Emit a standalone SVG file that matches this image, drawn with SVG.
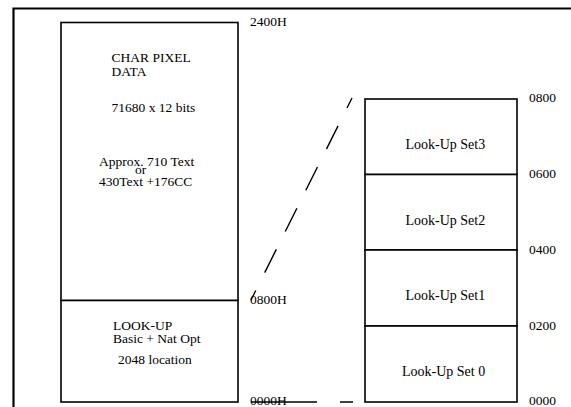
<svg xmlns="http://www.w3.org/2000/svg" width="571" height="407" viewBox="0 0 571 407">
<style>
.t{font-family:"Liberation Serif","Times New Roman",serif;font-size:13.5px;fill:#000}
.r{font-size:14px}
.box{fill:#fff;stroke:#000;stroke-width:1.6}
.ln{fill:none;stroke:#000;stroke-width:1.4}
</style>
<rect x="0" y="0" width="571" height="407" fill="#fff"/>
<path d="M13.5 407 V8.5 H571" fill="none" stroke="#000" stroke-width="2.2"/>
<g id="char-pixel-data">
<rect class="box" x="61" y="22.5" width="177" height="278"/>
<text class="t" x="111.5" y="61.7">CHAR PIXEL</text>
<text class="t" x="111.5" y="75.7">DATA</text>
<text class="t" x="111.5" y="111.7">71680 x 12 bits</text>
<text class="t" x="99" y="165.7">Approx. 710 Text</text>
<text class="t" x="140.5" y="173.5" text-anchor="middle">or</text>
<text class="t" x="99" y="185.7">430Text +176CC</text>
</g>
<g id="look-up">
<rect class="box" x="61" y="300.5" width="177" height="101.5"/>
<text class="t" x="113" y="330">LOOK-UP</text>
<text class="t" x="113" y="343.3">Basic + Nat Opt</text>
<text class="t" x="118" y="364.3">2048 location</text>
</g>
<g id="set3">
<rect class="box" x="365" y="99" width="152" height="75.5"/>
<text class="t r" x="405.5" y="149.3">Look-Up Set3</text>
</g>
<g id="set2">
<rect class="box" x="365" y="174.5" width="152" height="75.5"/>
<text class="t r" x="405.5" y="225">Look-Up Set2</text>
</g>
<g id="set1">
<rect class="box" x="365" y="250" width="152" height="76"/>
<text class="t r" x="405.5" y="300">Look-Up Set1</text>
</g>
<g id="set0">
<rect class="box" x="365" y="326" width="152" height="76"/>
<text class="t r" x="402" y="375.5">Look-Up Set 0</text>
</g>
<g id="labels">
<text class="t" x="250" y="26">2400H</text>
<text class="t" x="250" y="303.5">0800H</text>
<text class="t" x="250" y="405">0000H</text>
<text class="t" x="529" y="102">0800</text>
<text class="t" x="529" y="178">0600</text>
<text class="t" x="529" y="253.5">0400</text>
<text class="t" x="529" y="329.5">0200</text>
<text class="t" x="529" y="405">0000</text>
</g>
<g id="connectors">
<line class="ln" x1="352" y1="98" x2="251" y2="300" stroke-dasharray="26 20" stroke-dashoffset="14.8"/>
<path class="ln" d="M251 402 H317 M340 402 H353"/>
</g>
</svg>
